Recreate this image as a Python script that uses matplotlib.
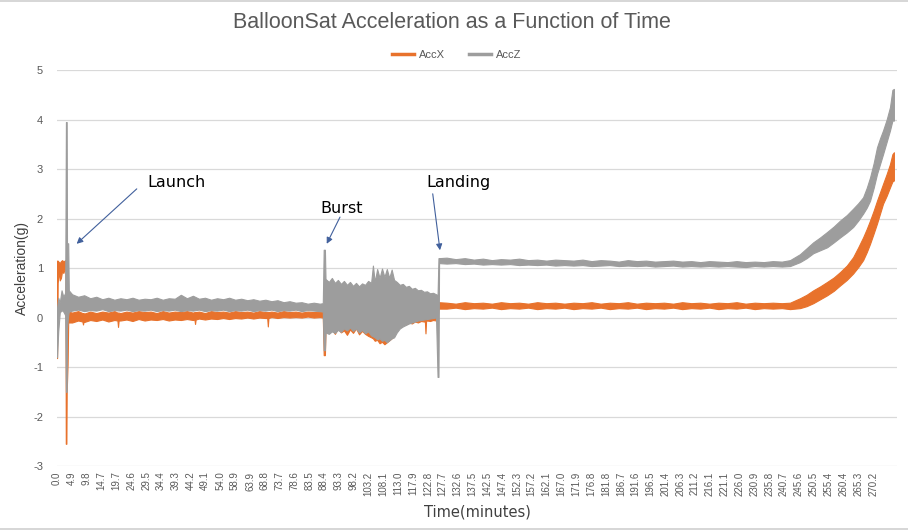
import matplotlib.pyplot as plt
from matplotlib.lines import Line2D

# category labels on the time axis (minutes)
time_labels = ['0.0', '4.9', '9.8', '14.7', '19.7', '24.6', '29.5', '34.4', '39.3', '44.2',
               '49.1', '54.0', '58.9', '63.9', '68.8', '73.7', '78.6', '83.5', '88.4', '93.3',
               '98.2', '103.2', '108.1', '113.0', '117.9', '122.8', '127.7', '132.6', '137.5', '142.5',
               '147.4', '152.3', '157.2', '162.1', '167.0', '171.9', '176.8', '181.8', '186.7', '191.6',
               '196.5', '201.4', '206.3', '211.2', '216.1', '221.1', '226.0', '230.9', '235.8', '240.7',
               '245.6', '250.5', '255.4', '260.4', '265.3', '270.2']

# AccZ: time knots with upper / lower edge of the noisy trace (g)
accz_t = [0.0, 0.4, 0.9, 1.5, 2.1, 2.7, 2.95, 3.2, 3.3, 3.7, 3.9,
          5, 7, 9, 11, 13, 15, 17, 19, 21, 23, 25, 27, 29, 31, 33, 35, 37, 39, 41, 43,
          45, 47, 49, 51, 53, 55, 57, 59, 61, 63, 65, 67, 69, 71, 73, 75, 77, 79, 81, 83, 85, 87,
          88.0, 88.3, 88.7, 88.9,
          90, 91, 92, 93, 94, 95, 96, 97, 98, 99, 100, 101, 102, 103, 104,
          104.6, 105.2, 106.0, 106.8, 107.6, 108.4, 109.2, 110.0, 110.8, 111.6,
          112.5, 113.5, 114.5, 115.5, 116.5, 117.5, 118.5, 119.5, 120.5, 121.5, 122.5, 123.5, 124.5, 125.5,
          126.0, 126.3, 126.5,
          129, 132, 135, 138, 141, 144, 147, 150, 153, 156, 159, 162, 165, 168, 171, 174, 177, 180, 183,
          186, 189, 192, 195, 198, 201, 204, 207, 210, 213, 216, 219, 222, 225, 228, 231, 234, 237, 240,
          242.7, 246.0, 248.2, 250.4, 252.7, 255.0, 257.2, 259.3, 261.5, 263.6, 265.3,
          266.9, 268.1, 269.2, 270.4, 271.5, 272.5, 273.5, 274.7, 275.8, 276.6, 277.1]
accz_hi = [0.20, 0.40, 0.30, 0.55, 0.42, 0.50, 3.95, 3.95, 1.50, 1.50, 0.55,
           0.47, 0.42, 0.45, 0.39, 0.42, 0.37, 0.40, 0.36, 0.39, 0.37, 0.40, 0.36, 0.38, 0.37, 0.40, 0.36,
           0.39, 0.38, 0.46, 0.39, 0.44, 0.38, 0.40, 0.36, 0.39, 0.37, 0.40, 0.36, 0.38, 0.35, 0.37, 0.34,
           0.36, 0.33, 0.35, 0.31, 0.33, 0.30, 0.31, 0.28, 0.30, 0.28,
           0.29, 1.37, 1.37, 0.78,
           0.72, 0.80, 0.70, 0.76, 0.68, 0.74, 0.66, 0.72, 0.64, 0.70, 0.63, 0.69, 0.66, 0.74, 0.70,
           1.05, 0.72, 0.98, 0.80, 0.99, 0.82, 0.98, 0.80, 0.97, 0.76,
           0.72, 0.66, 0.68, 0.62, 0.64, 0.58, 0.60, 0.55, 0.56, 0.52, 0.53, 0.49, 0.50, 0.47,
           0.45, 1.20, 1.20,
           1.21, 1.18, 1.20, 1.17, 1.19, 1.16, 1.18, 1.17, 1.19, 1.16, 1.17, 1.15, 1.17, 1.16, 1.15,
           1.17, 1.14, 1.16, 1.15, 1.13, 1.16, 1.14, 1.15, 1.13, 1.14, 1.15, 1.13, 1.14, 1.12, 1.14,
           1.13, 1.12, 1.14, 1.12, 1.13, 1.12, 1.14, 1.13,
           1.16, 1.28, 1.40, 1.52, 1.62, 1.73, 1.84, 1.96, 2.07, 2.20, 2.31,
           2.43, 2.62, 2.83, 3.12, 3.44, 3.62, 3.78, 4.00, 4.25, 4.60, 4.62]
accz_lo = [-0.80, -0.28, 0.10, 0.15, 0.12, 0.05, -1.50, -1.50, -0.20, 0.05, 0.12,
           0.14, 0.16, 0.13, 0.15, 0.14, 0.17, 0.13, 0.15, 0.14, 0.16, 0.13, 0.15, 0.14, 0.16, 0.13, 0.15,
           0.14, 0.16, 0.13, 0.15, 0.14, 0.16, 0.13, 0.15, 0.14, 0.16, 0.13, 0.15, 0.14, 0.16, 0.13, 0.15,
           0.14, 0.16, 0.13, 0.15, 0.14, 0.16, 0.13, 0.15, 0.14, 0.13,
           0.12, -0.66, -0.66, -0.30,
           -0.33, -0.28, -0.31, -0.25, -0.29, -0.22, -0.26, -0.20, -0.27, -0.22, -0.30, -0.25, -0.32, -0.28, -0.36,
           -0.38, -0.40, -0.44, -0.42, -0.47, -0.45, -0.50, -0.46, -0.42, -0.40,
           -0.30, -0.22, -0.18, -0.15, -0.12, -0.10, -0.08, -0.06, -0.05, -0.04, -0.03, -0.02, -0.01, 0.00,
           -1.20, -1.20, 1.10,
           1.09, 1.10, 1.08, 1.09, 1.07, 1.08, 1.07, 1.08, 1.06, 1.07, 1.06, 1.07, 1.05, 1.06, 1.05,
           1.06, 1.04, 1.05, 1.06, 1.04, 1.05, 1.04, 1.05, 1.03, 1.04, 1.05, 1.03, 1.04, 1.03, 1.04,
           1.03, 1.04, 1.03, 1.02, 1.04, 1.03, 1.04, 1.03,
           1.04, 1.12, 1.20, 1.30, 1.36, 1.42, 1.52, 1.62, 1.72, 1.83, 1.96,
           2.10, 2.22, 2.36, 2.62, 2.90, 3.10, 3.30, 3.55, 3.78, 3.98, 3.98]

# AccX: same idea
accx_t = [0.0, 0.2, 0.6, 0.9, 1.3, 1.7, 2.1, 2.5, 2.8, 2.9, 3.1, 3.2, 3.5, 3.7,
          5, 7, 8.4, 8.6, 8.8, 9, 11, 13, 15, 17, 19, 20.0, 20.2, 20.4, 21, 23, 25, 27, 29, 31, 33,
          35, 37, 39, 41, 43, 45, 45.5, 45.7, 45.9, 47, 49, 51, 53, 55, 57, 59, 61, 63, 65, 67,
          69, 69.6, 69.8, 70.0, 71, 73, 75, 77, 79, 81, 83, 85, 87,
          88.0, 88.3, 88.7, 88.9,
          90, 91, 92, 93, 94, 95, 96, 97, 98, 99, 100, 101, 102, 103, 104,
          104.6, 105.2, 106.0, 106.8, 107.6, 108.4, 109.2, 110.0, 110.8, 111.6,
          112.5, 113.5, 114.5, 115.5, 116.5, 117.5, 118.5, 119.5, 120.5, 121.5, 121.8, 122.0, 122.2,
          122.5, 123.5, 124.5, 125.5,
          126.0, 126.3,
          129, 132, 135, 138, 141, 144, 147, 150, 153, 156, 159, 162, 165, 168, 171, 174, 177, 180, 183,
          186, 189, 192, 195, 198, 201, 204, 207, 210, 213, 216, 219, 222, 225, 228, 231, 234, 237, 240,
          242.7, 246.0, 248.2, 250.4, 252.7, 255.0, 257.2, 259.3, 261.5, 263.6, 265.3,
          266.9, 268.1, 269.2, 270.4, 271.5, 272.5, 273.5, 274.7, 275.8, 276.6, 277.1]
accx_hi = [1.15, 1.15, 1.12, 1.10, 1.14, 1.16, 1.13, 1.15, 1.16, 1.15, 1.10, 0.10, 0.10, 0.12,
           0.10, 0.13, 0.09, 0.09, 0.09, 0.08, 0.12, 0.09, 0.12, 0.10, 0.13, 0.10, 0.10, 0.10, 0.09,
           0.12, 0.10, 0.13, 0.11, 0.12, 0.09, 0.13, 0.10, 0.12, 0.11, 0.13, 0.10, 0.11, 0.11, 0.11,
           0.12, 0.09, 0.13, 0.11, 0.12, 0.10, 0.13, 0.11, 0.12, 0.10, 0.13, 0.11, 0.11, 0.11, 0.11,
           0.12, 0.10, 0.13, 0.11, 0.12, 0.10, 0.12, 0.11, 0.12,
           0.12, 0.10, 0.10, 0.05,
           0.05, 0.02, 0.06, 0.03, 0.05, 0.02, 0.04, 0.01, 0.03, 0.00, 0.02, -0.02, 0.00, -0.03, -0.05,
           -0.08, -0.10, -0.12, -0.15, -0.14, -0.12, -0.10, -0.08, -0.05, -0.02,
           0.06, 0.08, 0.10, 0.07, 0.10, 0.08, 0.11, 0.09, 0.11, 0.10, 0.10, 0.10, 0.10,
           0.09, 0.11, 0.10, 0.12,
           0.12, 0.31,
           0.30, 0.28, 0.31, 0.29, 0.30, 0.28, 0.31, 0.29, 0.30, 0.28, 0.31, 0.29, 0.30, 0.28, 0.30,
           0.29, 0.31, 0.28, 0.30, 0.29, 0.31, 0.28, 0.30, 0.29, 0.30, 0.28, 0.31, 0.29, 0.30, 0.28,
           0.30, 0.29, 0.31, 0.28, 0.30, 0.29, 0.30, 0.29,
           0.30, 0.39, 0.46, 0.55, 0.63, 0.72, 0.81, 0.92, 1.05, 1.22, 1.42,
           1.62, 1.79, 1.96, 2.16, 2.36, 2.53, 2.70, 2.90, 3.10, 3.30, 3.34]
accx_lo = [-0.82, 0.70, 0.95, 0.75, 0.80, 0.95, 0.90, 0.98, 1.00, -2.55, -2.55, -1.50, -0.95, -0.10,
           -0.10, -0.06, -0.08, -0.14, -0.08, -0.09, -0.05, -0.07, -0.04, -0.08, -0.05, -0.06, -0.19, -0.06,
           -0.06, -0.04, -0.07, -0.03, -0.06, -0.04, -0.05, -0.03, -0.06, -0.04, -0.05, -0.03, -0.05,
           -0.04, -0.13, -0.04, -0.02, -0.04, -0.02, -0.03, -0.01, -0.03, -0.01, -0.02, 0.00, -0.02, 0.00,
           -0.01, -0.01, -0.18, -0.01, 0.01, -0.01, 0.01, 0.00, 0.01, 0.00, 0.02, 0.00, 0.01,
           0.00, -0.76, -0.76, -0.25,
           -0.30, -0.24, -0.33, -0.22, -0.30, -0.26, -0.35, -0.24, -0.31, -0.22, -0.34, -0.27, -0.33, -0.37, -0.40,
           -0.42, -0.47, -0.45, -0.52, -0.49, -0.54, -0.50, -0.46, -0.42, -0.36,
           -0.20, -0.15, -0.12, -0.14, -0.10, -0.12, -0.08, -0.10, -0.07, -0.08, -0.07, -0.32, -0.07,
           -0.06, -0.07, -0.05, -0.06,
           -0.06, 0.18,
           0.18, 0.20, 0.17, 0.19, 0.18, 0.20, 0.17, 0.19, 0.18, 0.20, 0.17, 0.19, 0.18, 0.20, 0.17,
           0.19, 0.18, 0.20, 0.17, 0.19, 0.18, 0.20, 0.17, 0.19, 0.18, 0.20, 0.17, 0.19, 0.18, 0.20,
           0.17, 0.19, 0.18, 0.20, 0.17, 0.19, 0.18, 0.19,
           0.17, 0.19, 0.23, 0.29, 0.37, 0.45, 0.54, 0.65, 0.76, 0.89, 1.02,
           1.16, 1.32, 1.49, 1.70, 1.90, 2.10, 2.30, 2.46, 2.63, 2.75, 2.77]

assert len(accz_t) == len(accz_hi) == len(accz_lo), (len(accz_t), len(accz_hi), len(accz_lo))
assert len(accx_t) == len(accx_hi) == len(accx_lo), (len(accx_t), len(accx_hi), len(accx_lo))

orange = '#e8722c'
grey = '#9d9d9d'
txt_grey = '#595959'
arrow_col = '#41609c'

plt.rcParams['font.family'] = ['Liberation Sans', 'DejaVu Sans']
plt.rcParams['axes.unicode_minus'] = False

fig = plt.figure(figsize=(9.08, 5.31), dpi=100)
ax = fig.add_axes([0.0628, 0.1224, 0.925, 0.7456])

# AccX first, AccZ drawn on top (like the spreadsheet)
ax.fill_between(accx_t, accx_lo, accx_hi, color=orange, lw=0.8, zorder=2)
ax.fill_between(accz_t, accz_lo, accz_hi, color=grey, lw=0.8, zorder=3)

ax.set_xlim(0, 278.1)
ax.set_ylim(-3, 5)
ax.set_yticks(range(-3, 6))
ax.set_xticks([float(s) for s in time_labels])
ax.set_xticklabels(time_labels, rotation=90, fontsize=7, color=txt_grey)
ax.tick_params(axis='y', length=0, pad=10, labelsize=8, labelcolor=txt_grey)
ax.tick_params(axis='x', length=0, pad=4)
ax.grid(axis='y', color='#d9d9d9', lw=0.9, zorder=0)
for s in ax.spines.values():
    s.set_visible(False)

ax.set_ylabel('Acceleration(g)', fontsize=10, color='#404040', labelpad=3)
ax.set_xlabel('Time(minutes)', fontsize=10.5, color='#404040', family='DejaVu Sans', labelpad=6)

# event labels with arrows
notes = [('Launch', (29.8, 2.73), (26.4, 2.60), (6.5, 1.49)),
         ('Burst', (87.1, 2.21), (93.7, 2.03), (89.3, 1.49)),
         ('Landing', (122.4, 2.73), (124.4, 2.50), (126.8, 1.36))]
for label, pos, tail, head in notes:
    ax.text(pos[0], pos[1], label, fontsize=11.5, family='DejaVu Sans', va='center', ha='left', zorder=5)
    ax.annotate('', xy=head, xytext=tail,
                arrowprops=dict(arrowstyle='-|>', color=arrow_col, lw=0.8, mutation_scale=9,
                                shrinkA=0, shrinkB=0), zorder=5)

fig.suptitle('BalloonSat Acceleration as a Function of Time', x=0.498, y=0.958, va='center',
             fontsize=15.5, color=txt_grey)

handles = [Line2D([], [], color=orange, lw=2.5), Line2D([], [], color=grey, lw=2.5)]
fig.legend(handles, ['AccX', 'AccZ'], loc='center', bbox_to_anchor=(0.503, 0.897), ncol=2,
           frameon=False, fontsize=8, handlelength=2.0, handletextpad=0.4, columnspacing=2.2,
           labelcolor=txt_grey)

# chart border lines at top and bottom
fig.add_artist(Line2D([0, 1], [0.998, 0.998], color='#d0d0d0', lw=1.2))
fig.add_artist(Line2D([0, 1], [0.004, 0.004], color='#d0d0d0', lw=1.2))

fig.savefig('out.png', dpi=100)
